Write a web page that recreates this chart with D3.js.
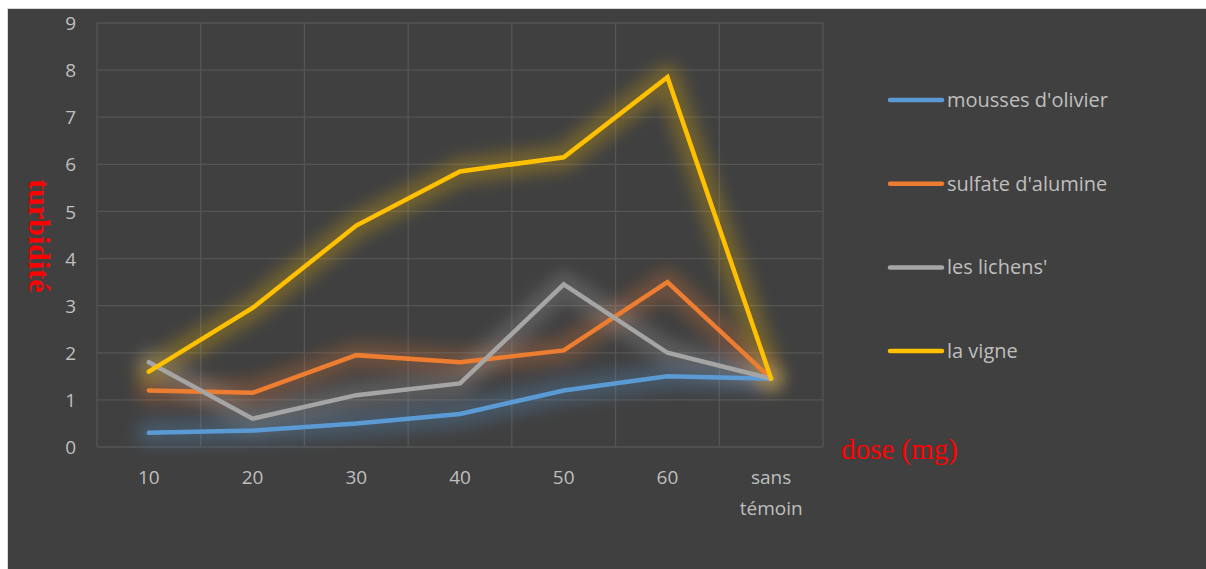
<!DOCTYPE html>
<html>
<head>
<meta charset="utf-8">
<script src="https://cdn.jsdelivr.net/npm/d3@7"></script>
<style>
  html, body { margin: 0; padding: 0; background: #ffffff; }
  svg { display: block; }
</style>
</head>
<body>
<svg id="chart" width="1206" height="569"></svg>
<script>
// Dose categories on the x axis
const categories = ["10", "20", "30", "40", "50", "60", "sans témoin"];
// Turbidity per coagulant
const moussesOlivier = [0.3, 0.35, 0.5, 0.7, 1.2, 1.5, 1.45];
const sulfateAlumine = [1.2, 1.15, 1.95, 1.8, 2.05, 3.5, 1.45];
const lesLichens     = [1.8, 0.6, 1.1, 1.35, 3.45, 2.0, 1.45];
const laVigne        = [1.6, 2.95, 4.7, 5.85, 6.15, 7.85, 1.45];
const seriesNames = ["mousses d'olivier", "sulfate d'alumine", "les lichens'", "la vigne"];
const seriesColors = ["#5b9bd5", "#ed7d31", "#a5a5a5", "#ffc000"];
const yTicks = [0, 1, 2, 3, 4, 5, 6, 7, 8, 9];

const seriesValues = [moussesOlivier, sulfateAlumine, lesLichens, laVigne];

const svg = d3.select("#chart");
const W = 1206, H = 569;
const labelFont = "'Open Sans', sans-serif";

// Dark chart area with a thin light frame
svg.append("rect").attr("x", 7.5).attr("y", 8.5).attr("width", W - 7).attr("height", H - 8)
  .attr("fill", "#404040").attr("stroke", "#d9d9d9").attr("stroke-width", 1);

const plot = { left: 97, right: 823, top: 23, bottom: 447 };

const x = d3.scaleBand().domain(categories).range([plot.left, plot.right]).padding(0);
const y = d3.scaleLinear().domain([0, 9]).range([plot.bottom, plot.top]);
const cx = d => x(d) + x.bandwidth() / 2;

// Soft glow behind each line
const defs = svg.append("defs");
defs.append("filter").attr("id", "glow")
  .attr("x", "-20%").attr("y", "-20%").attr("width", "140%").attr("height", "140%")
  .append("feGaussianBlur").attr("stdDeviation", 7.5);

// Gridlines
const grid = svg.append("g").attr("stroke", "#555555").attr("stroke-width", 1.3).attr("fill", "none");
yTicks.forEach(t => {
  grid.append("line").attr("x1", plot.left).attr("x2", plot.right)
    .attr("y1", y(t)).attr("y2", y(t));
});
categories.concat([null]).forEach(c => {
  const xv = c === null ? plot.right : x(c);
  grid.append("line").attr("x1", xv).attr("x2", xv).attr("y1", plot.top).attr("y2", plot.bottom);
});

// Y axis labels
const yAxis = d3.axisLeft(y).tickValues(yTicks).tickSize(0).tickPadding(0);
const yg = svg.append("g").attr("transform", `translate(${76},0)`).call(yAxis);
yg.select(".domain").remove();
yg.selectAll("text").attr("fill", "#bfbfbf").attr("font-family", labelFont)
  .attr("font-size", 19).attr("dy", "0.35em");

// X axis labels
const xAxis = d3.axisBottom(x).tickSize(0).tickPadding(0);
const xg = svg.append("g").attr("transform", `translate(0,${471})`).call(xAxis);
xg.select(".domain").remove();
xg.selectAll("text").attr("fill", "#bfbfbf").attr("font-family", labelFont)
  .attr("font-size", 19).attr("dy", "0.7em")
  .each(function(d) {
    const words = d.split(" ");
    if (words.length > 1) {
      const t = d3.select(this).text(null);
      words.forEach((w, i) => {
        t.append("tspan").attr("x", 0).attr("dy", i === 0 ? "0.7em" : "1.6em").text(w);
      });
    }
  });

// Lines
const line = d3.line().x((v, i) => cx(categories[i])).y(v => y(v));
const glowLayer = svg.append("g").attr("filter", "url(#glow)");
const lineLayer = svg.append("g");
seriesValues.forEach((vals, s) => {
  glowLayer.append("path").datum(vals).attr("d", line)
    .attr("fill", "none").attr("stroke", seriesColors[s]).attr("stroke-opacity", 0.26)
    .attr("stroke-width", 26).attr("stroke-linejoin", "round").attr("stroke-linecap", "round");
});
seriesValues.forEach((vals, s) => {
  lineLayer.append("path").datum(vals).attr("d", line)
    .attr("fill", "none").attr("stroke", seriesColors[s])
    .attr("stroke-width", 4.5).attr("stroke-linejoin", "miter").attr("stroke-linecap", "round");
});

// Legend
const legend = svg.append("g");
seriesNames.forEach((name, i) => {
  const ly = 100 + i * 83.7;
  legend.append("line").attr("x1", 890).attr("x2", 942).attr("y1", ly).attr("y2", ly)
    .attr("stroke", seriesColors[i]).attr("stroke-width", 4.5).attr("stroke-linecap", "round");
  legend.append("text").attr("x", 947).attr("y", ly).attr("dy", "0.35em")
    .attr("fill", "#bfbfbf").attr("font-family", labelFont).attr("font-size", 20)
    .text(name);
});

// Axis titles
svg.append("text").attr("transform", "translate(29,236) rotate(90)")
  .attr("text-anchor", "middle").attr("fill", "#ff0000")
  .attr("font-family", "'Liberation Serif', 'Times New Roman', serif").attr("font-weight", "bold")
  .attr("font-size", 30).text("turbidité");
svg.append("text").attr("x", 841).attr("y", 459)
  .attr("fill", "#ff0000")
  .attr("font-family", "'Liberation Serif', 'Times New Roman', serif")
  .attr("font-size", 29).text("dose (mg)");
</script>
</body>
</html>
